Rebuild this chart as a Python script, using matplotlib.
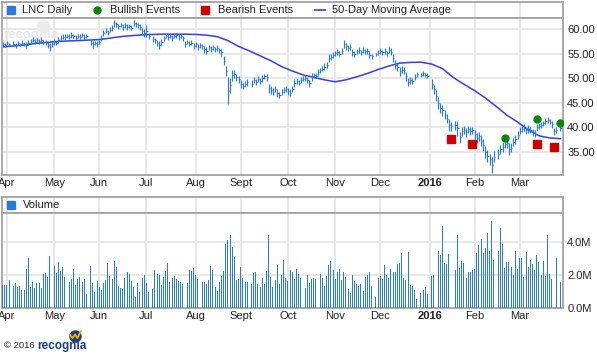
import numpy as np
import pandas as pd
import matplotlib
matplotlib.use("Agg")
import matplotlib.pyplot as plt
from matplotlib.lines import Line2D

plt.rcParams['font.family'] = ['Liberation Sans', 'DejaVu Sans']

# weekday calendar of the chart; market holidays stay as empty slots
days = pd.bdate_range("2015-03-30", "2016-03-28")
holidays = pd.to_datetime(["2015-04-03", "2015-05-25", "2015-07-03", "2015-09-07",
                           "2015-11-26", "2015-12-25", "2016-01-01", "2016-01-18",
                           "2016-02-15", "2016-03-25"])
trading = days.drop(holidays)

close = [57.0, 56.8, 57.2, 56.9,
         57.1, 56.7, 57.2, 56.9, 57.3, 57.0, 56.8, 57.3, 57.6, 57.9, 57.5, 57.8, 57.6, 57.9, 57.4,
         57.3, 56.8, 56.4, 56.9, 57.4, 57.2, 57.8, 58.3, 58.5, 58.4, 58.7, 58.5, 58.9, 58.6, 58.3,
         58.7, 58.5, 58.8, 58.4, 58.6,
         57.3, 56.9, 57.2, 57.0, 57.4, 58.2, 59.3, 59.7, 59.4, 59.9, 60.3, 61.2, 61.0, 60.6, 60.9,
         60.4, 60.8, 60.5, 60.7, 60.3, 61.3, 61.0, 60.8, 60.5, 59.6, 59.2, 59.7, 58.6,
         58.0, 57.8, 57.2, 56.8, 57.4, 58.2, 58.6, 58.4, 58.7, 58.3, 58.6, 58.8, 58.4, 58.6, 58.2,
         57.0, 57.4, 57.1, 57.3, 56.6, 56.9, 56.4, 56.7, 56.5, 55.9, 55.6, 56.3, 56.0, 56.3, 55.9,
         56.1, 55.7, 55.3, 53.6, 51.5, 47.5, 48.6, 50.6, 50.9, 50.2, 49.8, 48.9, 48.4, 48.8, 49.2,
         48.9, 49.6, 49.3, 49.9, 49.5, 50.0, 50.4, 50.2, 48.0, 47.6, 47.3, 47.8, 47.0, 46.6, 47.2,
         47.6, 47.9, 47.4, 47.1, 47.8, 49.0, 49.4, 49.1, 49.6, 49.9, 50.1, 49.6, 49.0, 50.3, 50.6,
         50.5, 51.2, 51.6, 52.0, 52.4, 52.8, 54.1, 54.4, 54.7, 55.1, 55.4, 55.0, 55.5, 57.0, 56.5,
         56.2, 56.4, 55.3, 55.0, 55.5, 55.7, 55.3, 55.8, 55.5, 55.6, 54.8, 54.5,
         54.9, 55.2, 55.5, 55.3, 55.6, 55.1, 55.8, 55.4, 54.1, 52.8, 52.3, 51.4, 51.8, 51.6, 50.4,
         49.2, 49.6, 49.4, 50.3, 50.8,
         50.6, 51.0, 50.7, 50.5,
         48.8, 47.8, 46.5, 45.0, 44.0, 43.5, 42.6, 41.8, 40.5, 40.2,
         40.4, 39.8, 38.0, 39.2, 39.5, 39.0, 39.6, 39.3, 39.4, 38.6, 37.9, 38.2, 37.3, 36.4, 35.0,
         34.2, 33.5, 32.3, 34.0,
         34.5, 35.5, 36.0, 36.7, 36.9, 35.6, 35.9, 37.0, 37.6, 38.4, 39.3, 39.6, 39.9, 39.4, 39.7,
         39.5, 38.9, 38.7, 40.0, 40.3, 40.5, 40.8, 41.3, 41.6, 41.2, 40.6, 39.2, 39.4,
         39.8]

# daily high-low range
rng = [0.8, 1.0, 0.9, 0.8,
       1.0, 1.1, 0.9, 0.8, 1.0, 0.9, 1.1, 1.2, 1.0, 0.9, 1.1, 0.9, 1.0, 1.2, 0.9, 1.0, 1.4, 1.6,
       1.2, 1.1, 1.0, 1.2, 1.0, 0.9, 1.1, 0.8, 1.0, 1.2, 0.9, 1.0, 0.8, 1.0, 0.9, 1.1, 0.9,
       1.2, 1.4, 1.0, 1.1, 0.9, 1.3, 1.2, 1.0, 1.1, 1.0, 1.3, 1.5, 1.1, 1.0, 0.9, 1.2, 1.0, 1.1,
       0.9, 1.0, 1.2, 1.0, 0.9, 1.1, 1.4, 1.6, 2.4, 1.2,
       1.1, 1.0, 1.3, 1.5, 1.2, 1.0, 0.9, 1.1, 1.0, 1.2, 0.9, 1.0, 1.1, 0.9, 1.0, 1.3, 1.0, 1.2,
       0.9, 1.1, 1.0, 1.2, 0.9, 1.0, 1.3, 1.4, 1.0, 1.1, 0.9, 1.0, 1.2, 1.1, 1.3, 1.8, 2.2, 5.5,
       3.0, 2.2, 1.6, 1.5, 1.4, 1.6, 1.3, 1.2, 1.4,
       1.4, 1.2, 1.3, 1.1, 1.2, 1.4, 1.0, 1.3, 1.8, 1.5, 1.4, 1.2, 1.6, 1.4, 1.3, 1.1, 1.2, 1.4,
       1.3, 1.2, 1.6, 1.3, 1.1, 1.2, 1.0, 1.1, 1.2, 1.4, 1.5, 1.1, 1.0, 1.3, 1.2, 1.1, 1.4, 1.2,
       1.6, 1.3, 1.2, 1.1, 1.3, 1.0, 1.2, 1.8, 1.4, 1.2, 1.1, 1.3, 1.1, 1.0, 1.2, 1.1, 1.3, 1.0,
       1.2, 1.4, 1.1,
       0.7, 1.0, 1.2, 1.0, 1.3, 1.1, 1.2, 1.4, 1.6, 1.8, 1.5, 1.7, 1.4, 1.3, 1.9, 1.7, 1.4, 1.3,
       1.2, 1.0,
       0.8, 1.0, 0.9, 1.0,
       2.0, 1.8, 2.2, 2.4, 2.0, 2.2, 1.8, 2.0, 2.4, 1.8,
       2.0, 3.0, 2.2, 1.8, 1.6, 1.8, 1.5, 1.6, 1.4, 1.8, 2.0, 1.8, 2.2, 2.4, 2.6, 2.4, 2.2, 3.2,
       2.2,
       2.0, 1.8, 2.0, 1.6, 2.2, 2.4, 1.8, 1.6, 1.8, 1.6, 1.4, 1.2, 1.4, 1.3, 1.6, 1.2, 1.4, 1.5,
       1.3, 1.2, 1.4, 1.1, 1.3, 1.2, 1.0, 1.3, 1.5, 1.2,
       1.0]

# volume, millions of shares
volume = [1.39, 1.39, 1.39, 1.7,
          1.33, 1.5, 1.25, 1.33, 1.09, 1.09, 2.36, 3.03, 1.25, 1.58, 1.19, 1.5, 1.5, 1.19, 2.06,
          2.14, 1.9, 3.15, 5.7, 2.55, 2.14, 2.79, 2.24, 2.5, 1.86, 2.06, 1.58, 1.78, 2.36, 1.39,
          1.76, 1.9, 1.6, 1.74, 0.85,
          2.55, 1.54, 1.0, 1.64, 1.25, 1.09, 1.54, 1.7, 2.75, 1.94, 1.74, 2.85, 2.5, 1.33, 1.19,
          1.17, 1.8, 2.2, 2.06, 1.64, 1.25, 0.69, 1.5, 1.0, 1.8, 1.98, 1.5, 0.97,
          1.15, 2.3, 2.06, 1.98, 1.39, 1.86, 2.24, 2.73, 1.58, 1.8, 1.94, 1.76, 1.64, 1.58, 1.45,
          1.39, 1.52, 2.3, 2.24, 2.42, 2.0, 1.76, 2.0, 1.58, 1.58, 1.45, 1.7, 2.55, 2.3, 1.25,
          1.03, 1.58, 1.94, 2.24, 3.88, 4.12, 4.42, 3.7, 3.09, 1.7, 1.76, 2.48, 1.82, 1.58, 1.58,
          1.45, 2.12, 2.18, 1.45, 1.27, 1.82, 1.45, 2.24, 4.42, 1.88, 1.27, 1.7, 2.6, 1.45, 2.0,
          2.9, 1.82, 1.64, 2.3, 2.18, 1.76, 2.36, 2.06, 1.82, 1.03, 1.21, 2.0, 1.52, 1.76, 1.82,
          1.76, 1.76, 2.06, 1.82, 1.33, 1.94, 2.6, 2.85, 2.3, 1.76, 2.18, 2.36, 1.7, 2.18, 1.88,
          1.15, 0.91, 2.0, 1.64, 1.45, 1.33, 1.45, 1.03, 1.88, 2.0, 2.18, 1.33,
          0.67, 1.82, 1.94, 1.76, 2.6, 2.0, 1.82, 2.36, 2.18, 2.18, 2.67, 2.73, 3.33, 1.82, 1.7,
          3.39, 1.39, 1.33, 1.09, 0.55,
          0.91, 1.09, 1.27, 0.85,
          1.94, 2.0, 2.18, 3.45, 3.21, 4.97, 2.73, 2.67, 3.27, 3.15,
          2.3, 4.42, 2.42, 2.85, 2.73, 1.82, 2.18, 2.18, 2.3, 2.36, 3.33, 3.82, 4.18, 3.33, 3.64,
          4.55, 3.45, 5.27, 2.91,
          3.45, 4.85, 3.88, 2.42, 2.79, 2.79, 2.48, 2.0, 3.45, 2.36, 3.03, 3.03, 1.88, 3.39, 2.48,
          2.91, 2.67, 2.3, 3.21, 2.79, 2.0, 2.85, 1.94, 4.42, 2.06, 1.76, 1.88, 3.03,
          1.58]

# 50-day moving average read every Monday
ma50 = [56.4, 56.6, 56.8, 57.1, 57.3, 57.5, 57.6, 57.7, 57.8, 57.9, 58.2, 58.5, 58.7, 58.85,
        58.95, 59.0, 59.0, 59.0, 58.95, 58.8, 58.5, 57.7, 56.5, 55.6, 54.6, 53.6, 52.4, 51.5,
        50.7, 50.2, 49.7, 49.3, 49.7, 50.3, 51.0, 51.8, 52.5, 53.1, 53.25, 53.3, 52.9, 52.0,
        50.2, 48.8, 47.5, 46.0, 44.3, 42.5, 41.1, 39.5, 38.3, 37.85, 37.7]

bull_dates = ["2016-02-19", "2016-03-11", "2016-03-28"]
bull_px = [37.8, 41.8, 41.0]
bear_dates = ["2016-01-15", "2016-01-29", "2016-03-11", "2016-03-23"]
bear_px = [37.6, 36.6, 36.7, 36.0]

month_labels = ["Apr", "May", "Jun", "Jul", "Aug", "Sept", "Oct", "Nov", "Dec", "2016",
                "Feb", "Mar"]
price_ticks = [35, 40, 45, 50, 55, 60]
vol_ticks = [0, 2, 4]

BAR = '#2b7bd6'
MA = '#3a3af2'
GRID = '#e6e6e6'
EDGE = '#a3a3a3'
TXT = '#222222'

W, H = 597, 356


def box(l, t, r, b):
    return [l / W, 1 - b / H, (r - l) / W, (b - t) / H]


def fx(x):
    return (x - 2) / 561.0


xk = days.get_indexer(trading)
close = np.array(close)
rng = np.array(rng)
volume = np.array(volume)
ma_x = np.arange(0, len(days), 5)
month_pos = days.searchsorted(pd.date_range("2015-04-01", periods=12, freq="MS"))
xlim = (-0.3, 261.2)

fig = plt.figure(figsize=(W / 100, H / 100), dpi=100)
ax_pl = fig.add_axes(box(2, 2, 563, 18))
ax_p = fig.add_axes(box(2, 18, 563, 175))
ax_vl = fig.add_axes(box(2, 197, 563, 213))
ax_v = fig.add_axes(box(2, 213, 563, 308))

for ax in (ax_pl, ax_p, ax_vl, ax_v):
    ax.set_xlim(*xlim)
    for s in ax.spines.values():
        s.set_color(EDGE)
        s.set_linewidth(1.3)
    for p in month_pos:
        ax.axvline(p, color=GRID, lw=1.3, zorder=0)

for ax in (ax_pl, ax_vl):
    ax.set_ylim(0, 1)
    ax.set_xticks([])
    ax.set_yticks([])

# price panel
ax_p.set_ylim(30.3, 62.3)
for t in price_ticks:
    ax_p.axhline(t, color=GRID, lw=1.3, zorder=0)
ax_p.text(fx(3), 1 - 17 / 157, "recognia", transform=ax_p.transAxes, fontsize=9.5,
          fontweight='bold', color='#e6e6e6', va='center', zorder=0)
ax_p.plot([fx(43)], [1 - 8 / 157], 'o', ms=9, color='#ebebeb',
          transform=ax_p.transAxes, zorder=0)

ax_p.plot(ma_x, ma50, color=MA, lw=1.1, zorder=2)
ax_p.vlines(xk, close - rng / 2, close + rng / 2, color=BAR, lw=0.85, zorder=3)
ax_p.hlines(close, xk, xk + 0.6, color=BAR, lw=0.85, zorder=3)
ax_p.plot(days.get_indexer(pd.to_datetime(bear_dates)), bear_px, 's', ms=5.2,
          color='#cc0000', zorder=4)
ax_p.plot(days.get_indexer(pd.to_datetime(bull_dates)), bull_px, 'o', ms=5.0,
          color='#0a860a', zorder=4)

ax_p.yaxis.tick_right()
ax_p.set_yticks(price_ticks, [f"{t:.2f}" for t in price_ticks])
ax_p.set_xticks(month_pos, month_labels)
ax_p.tick_params(axis='y', length=0, pad=3, labelsize=8, labelcolor=TXT)
ax_p.tick_params(axis='x', length=0, pad=2, labelsize=8, labelcolor=TXT)

# volume panel
ax_v.set_ylim(0, 5.76)
for t in vol_ticks[1:]:
    ax_v.axhline(t, color=GRID, lw=1.3, zorder=0)
ax_v.bar(xk, volume, width=0.45, color=BAR, linewidth=0, zorder=3)
ax_v.yaxis.tick_right()
ax_v.set_yticks(vol_ticks, [f"{t:.1f}M" for t in vol_ticks])
ax_v.set_xticks(month_pos, month_labels)
ax_v.tick_params(axis='y', length=0, pad=3, labelsize=8, labelcolor=TXT)
ax_v.tick_params(axis='x', length=0, pad=2, labelsize=8, labelcolor=TXT)

for ax in (ax_p, ax_v):
    for lab in ax.get_xticklabels():
        if lab.get_text() == "2016":
            lab.set_fontweight('bold')

# legend rows
lk = dict(transform=ax_pl.transAxes, clip_on=False)
ax_pl.plot([fx(11)], [0.5], 's', ms=5.8, color=BAR, **lk)
ax_pl.text(fx(22.5), 0.5, "LNC Daily", va='center', fontsize=8, color=TXT,
           transform=ax_pl.transAxes)
ax_pl.plot([fx(97)], [0.5], 'o', ms=5, color='#0a860a', **lk)
ax_pl.text(fx(109.5), 0.5, "Bullish Events", va='center', fontsize=8, color=TXT,
           transform=ax_pl.transAxes)
ax_pl.plot([fx(205)], [0.5], 's', ms=5.2, color='#cc0000', **lk)
ax_pl.text(fx(217.5), 0.5, "Bearish Events", va='center', fontsize=8, color=TXT,
           transform=ax_pl.transAxes)
ax_pl.plot([fx(315), fx(325)], [0.5, 0.5], color=MA, lw=1.2, **lk)
ax_pl.text(fx(332), 0.5, "50-Day Moving Average", va='center', fontsize=8, color=TXT,
           transform=ax_pl.transAxes)

ax_vl.plot([fx(11)], [0.5], 's', ms=5.8, color=BAR, transform=ax_vl.transAxes,
           clip_on=False)
ax_vl.text(fx(22.5), 0.5, "Volume", va='center', fontsize=8, color=TXT,
           transform=ax_vl.transAxes)

# footer
fig.text(4 / W, 1 - 346 / H, "\u00a9 2016", fontsize=6.8, color=TXT, va='center')
fig.text(37 / W, 1 - 346 / H, "recognia", fontsize=8.5, fontweight='bold',
         color='#1c3f7f', va='center')
fig.add_artist(Line2D([75 / W], [1 - 336 / H], marker='o', ms=8, color='#1c3f7f',
                      transform=fig.transFigure))
fig.add_artist(Line2D([70 / W, 72.5 / W, 75 / W, 77.5 / W, 81 / W],
                      [1 - 335 / H, 1 - 338 / H, 1 - 334.5 / H, 1 - 338 / H, 1 - 331 / H],
                      color='#f2b400', lw=1.3, transform=fig.transFigure))

fig.savefig("out.png", dpi=100)
